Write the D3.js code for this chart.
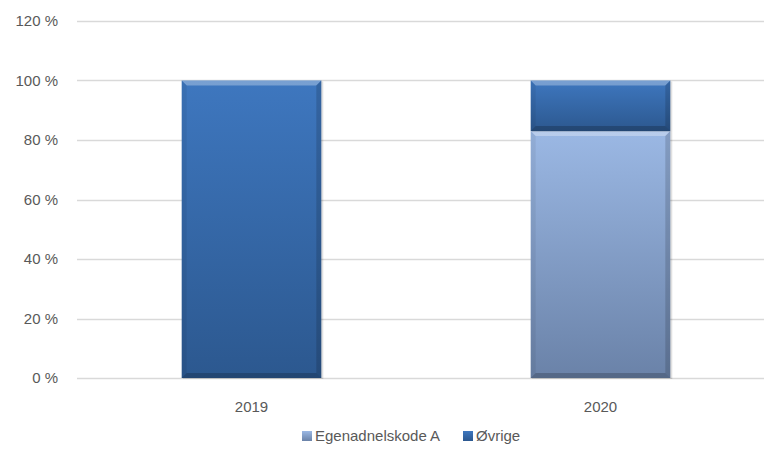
<!DOCTYPE html>
<html>
<head>
<meta charset="utf-8">
<script src="https://cdn.jsdelivr.net/npm/d3@7"></script>
<style>
  body { margin: 0; background: #fff; }
  svg { display: block; font-family: "Liberation Sans", Arial, sans-serif; }
</style>
</head>
<body>
<div id="chart"></div>
<script>
// Data
const years = ["2019", "2020"];
const egenadnelskodeA = [0, 83];
const ovrige = [100, 17];
const seriesNames = ["Egenadnelskode A", "Øvrige"];
const yTicks = [0, 20, 40, 60, 80, 100, 120];

const width = 764, height = 457;

const svg = d3.select("#chart")
    .append("svg")
    .attr("width", width)
    .attr("height", height);

const defs = svg.append("defs");

// gradients for the two series
const grads = [
    { id: "gA", top: "#9bb8e4", bottom: "#6a82a8" },
    { id: "gB", top: "#3e77bf", bottom: "#2c588f" }
];
grads.forEach(g => {
    const lg = defs.append("linearGradient")
        .attr("id", g.id)
        .attr("x1", 0).attr("y1", 0).attr("x2", 0).attr("y2", 1);
    lg.append("stop").attr("offset", "0%").attr("stop-color", g.top);
    lg.append("stop").attr("offset", "100%").attr("stop-color", g.bottom);
});

// Scales
const x = d3.scaleBand()
    .domain(years)
    .range([77, 775])
    .paddingInner(0.6)
    .paddingOuter(0.3);

const y = d3.scaleLinear()
    .domain([0, 120])
    .range([378, 21]);

// Gridlines
svg.append("g")
    .selectAll("line")
    .data(yTicks)
    .enter().append("line")
    .attr("x1", 77)
    .attr("x2", width)
    .attr("y1", d => Math.round(y(d)) + 0.5)
    .attr("y2", d => Math.round(y(d)) + 0.5)
    .attr("stroke", "#d9d9d9")
    .attr("stroke-width", 1.3);

// Y axis labels
svg.append("g")
    .selectAll("text")
    .data(yTicks)
    .enter().append("text")
    .attr("x", 58)
    .attr("y", d => y(d))
    .attr("dy", "0.35em")
    .attr("text-anchor", "end")
    .attr("font-size", 15)
    .attr("fill", "#595959")
    .text(d => d + " %");

// X axis labels
svg.append("g")
    .selectAll("text")
    .data(years)
    .enter().append("text")
    .attr("x", d => x(d) + x.bandwidth() / 2)
    .attr("y", 407)
    .attr("dy", "0.35em")
    .attr("text-anchor", "middle")
    .attr("font-size", 15)
    .attr("fill", "#595959")
    .text(d => d);

// Stack data
const table = years.map((yr, i) => ({ year: yr, a: egenadnelskodeA[i], b: ovrige[i] }));
const stacked = d3.stack().keys(["a", "b"])(table);

const bars = svg.append("g");
stacked.forEach((layer, li) => {
    layer.forEach(d => {
        if (d[1] - d[0] <= 0) return;
        const bx = x(d.data.year), bw = x.bandwidth();
        const by = y(d[1]), bh = y(d[0]) - y(d[1]);
        const g = bars.append("g");
        // soft shadow
        g.append("rect")
            .attr("x", bx + 1).attr("y", by + 1)
            .attr("width", bw + 1).attr("height", bh)
            .attr("fill", "#000").attr("opacity", 0.12);
        g.append("rect")
            .attr("x", bx).attr("y", by)
            .attr("width", bw).attr("height", bh)
            .attr("fill", `url(#${grads[li].id})`);
        const bev = 5;
        // top bevel (light)
        g.append("polygon")
            .attr("points", [[bx, by], [bx + bw, by], [bx + bw - bev, by + bev], [bx + bev, by + bev]].join(" "))
            .attr("fill", "#fff").attr("opacity", 0.3);
        // left bevel
        g.append("polygon")
            .attr("points", [[bx, by], [bx + bev, by + bev], [bx + bev, by + bh - bev], [bx, by + bh]].join(" "))
            .attr("fill", "#000").attr("opacity", 0.06);
        // right bevel
        g.append("polygon")
            .attr("points", [[bx + bw, by], [bx + bw - bev, by + bev], [bx + bw - bev, by + bh - bev], [bx + bw, by + bh]].join(" "))
            .attr("fill", "#000").attr("opacity", 0.15);
        // bottom bevel
        g.append("polygon")
            .attr("points", [[bx, by + bh], [bx + bev, by + bh - bev], [bx + bw - bev, by + bh - bev], [bx + bw, by + bh]].join(" "))
            .attr("fill", "#000").attr("opacity", 0.2);
    });
});

// Legend
const legendItems = [
    { name: seriesNames[0], grad: "gA", x: 302 },
    { name: seriesNames[1], grad: "gB", x: 463 }
];
const legend = svg.append("g")
    .selectAll("g")
    .data(legendItems)
    .enter().append("g")
    .attr("transform", d => `translate(${d.x},436)`);

legend.append("rect")
    .attr("x", 0).attr("y", -5)
    .attr("width", 10).attr("height", 10)
    .attr("fill", d => `url(#${d.grad})`);

legend.append("text")
    .attr("x", 13)
    .attr("y", 0)
    .attr("dy", "0.35em")
    .attr("font-size", 15)
    .attr("fill", "#595959")
    .text(d => d.name);
</script>
</body>
</html>
